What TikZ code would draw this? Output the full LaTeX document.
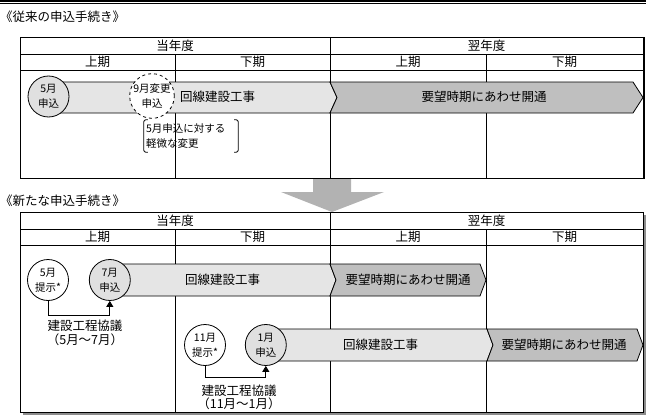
\documentclass[tikz,border=0pt]{standalone}
\usepackage{fontspec}
\setmainfont{Noto Sans CJK JP}
\usetikzlibrary{arrows.meta,positioning}

\begin{document}
\begin{tikzpicture}[
  x=1pt,y=-1pt,
  every node/.style={inner sep=0pt,align=center},
  lbl/.style={font=\fontsize{12.5}{15}\selectfont},
  talk/.style={font=\fontsize{12.5}{13.5}\selectfont},
  small/.style={font=\fontsize{10.5}{15}\selectfont},
  month/.style={circle,draw,line width=0.8pt,minimum size=41pt,small,fill=white},
  applied/.style={month,fill=black!12},
  changed/.style={month,dashed},
  lightbar/.style={draw,line width=0.8pt,fill=black!10},
  darkbar/.style={draw,line width=0.8pt,fill=black!25},
  grid/.style={line width=0.8pt},
  flow/.style={-{Triangle[length=6pt,width=7pt]},line width=0.8pt}
]
  \useasboundingbox (0,0) rectangle (646,415);
  % header rule
  \draw[line width=1.6pt] (0,0.8) -- (646,0.8);
  \draw[line width=0.7pt] (0,3.2) -- (646,3.2);

  \node[lbl,anchor=west] (old) at (0,17) {《従来の申込手続き》};
  \node[lbl,anchor=west] (new) at (0,201) {《新たな申込手続き》};

  % tables
  \fill[black!45] (23,215) rectangle (646.5,415);
  \foreach \t/\b/\k in {37/178/a,212/412/b}{
    \fill[white] (20,\t) rectangle (643,\b);
    \draw[grid] (20,\t) rectangle (643,\b);
    \draw[grid] (20,\t+17) -- (643,\t+17) (20,\t+33) -- (643,\t+33);
    \draw[grid] (330,\t) -- (330,\b) (175,\t+17) -- (175,\b) (486,\t+17) -- (486,\b);
    \node[lbl] (\k-cur) at (175,\t+8.5) {当年度};
    \node[lbl] (\k-nxt) at (486.5,\t+8.5) {翌年度};
    \node[lbl] (\k-h1) at (97.5,\t+25) {上期};
    \node[lbl] (\k-h2) at (252.5,\t+25) {下期};
    \node[lbl] (\k-h3) at (408,\t+25) {上期};
    \node[lbl] (\k-h4) at (564.5,\t+25) {下期};
  }
  \draw[line width=1.6pt] (643.8,37) -- (643.8,178.8);

  % old procedure
  \draw[lightbar] (48,82) -- (330,82) -- (337,97.5) -- (330,113) -- (48,113) -- cycle;
  \draw[darkbar] (330,82) -- (633,82) -- (643,97.5) -- (633,113) -- (330,113) -- (337,97.5) -- cycle;
  \node[applied] (m5) at (48.5,96.5) {5月\\申込};
  \node[changed] (m9) at (152,96) {9月変更\\申込};
  \node[lbl,anchor=west] (work1) at (180,96.5) {回線建設工事};
  \node[lbl] (open1) at (484,96.5) {要望時期にあわせ開通};
  \node[small,inner xsep=2pt,text width=90pt,align=left,minimum height=32pt] (minor) at (191,136) {5月申込に対する\\軽微な変更};
  \draw[line width=0.8pt,rounded corners=2pt] ([xshift=4pt]minor.north west) -- (minor.north west)
    -- (minor.south west) -- ([xshift=4pt]minor.south west);
  \draw[line width=0.8pt,rounded corners=2pt] ([xshift=-4pt]minor.north east) -- (minor.north east)
    -- (minor.south east) -- ([xshift=-4pt]minor.south east);

  % big arrow
  \fill[black!30] (313,179) -- (351,179) -- (351,192) -- (384,192) -- (332,212)
    -- (281,192) -- (313,192) -- cycle;

  % new procedure
  \draw[lightbar] (110,264) -- (330,264) -- (336,280) -- (330,296) -- (110,296) -- cycle;
  \draw[darkbar] (330,264) -- (480,264) -- (486,280) -- (480,296) -- (330,296) -- (336,280) -- cycle;
  \node[month] (p5) at (48,280) {5月\\提示*};
  \node[applied,right=20pt of p5] (a7) {7月\\申込};
  \node[lbl,anchor=west] (work2) at (185,280) {回線建設工事};
  \node[lbl] (open2) at (408,280) {要望時期にあわせ開通};
  \draw[flow] (p5.south) -- ++(0,14) -| (a7.south);
  \node[talk] (talk1) at (85,333) {建設工程協議\\（5月〜7月）};

  \draw[lightbar] (265,329) -- (487,329) -- (493,345) -- (487,361) -- (265,361) -- cycle;
  \draw[darkbar] (487,329) -- (637,329) -- (643,345) -- (637,361) -- (487,361) -- (493,345) -- cycle;
  \node[month] (p11) at (205,345) {11月\\提示*};
  \node[applied,right=19pt of p11] (a1) {1月\\申込};
  \node[lbl,anchor=west] (work3) at (343,345) {回線建設工事};
  \node[lbl] (open3) at (564,345) {要望時期にあわせ開通};
  \draw[flow] (p11.south) -- ++(0,11.5) -| (a1.south);
  \node[talk] (talk2) at (239,397.5) {建設工程協議\\（11月〜1月）};
\end{tikzpicture}
\end{document}
